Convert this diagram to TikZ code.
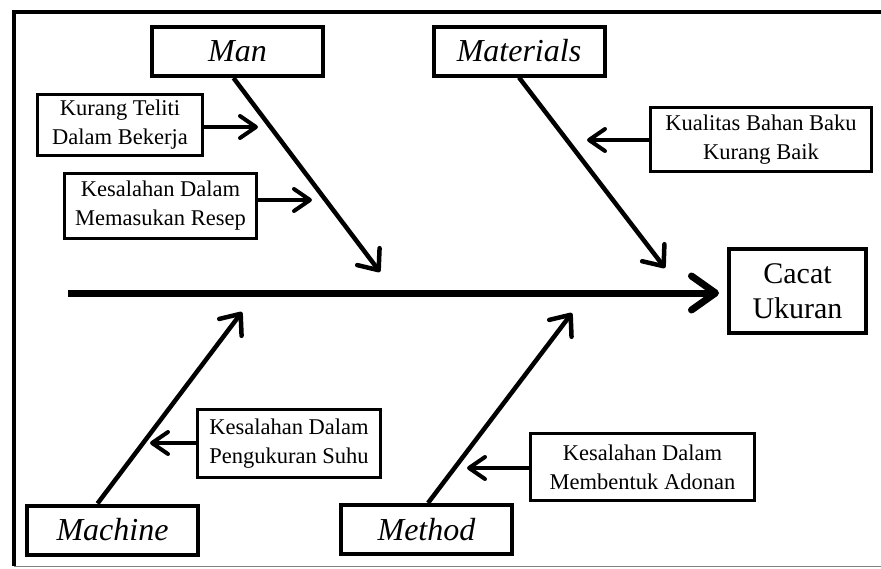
\documentclass[tikz,border=0pt]{standalone}
\usepackage{fontspec}
\setmainfont{Liberation Serif}
\usetikzlibrary{arrows.meta}
\tikzset{
  cat/.style={draw, line width=4pt, inner sep=0pt, font=\fontsize{32}{36}\selectfont\itshape, minimum width=171pt, minimum height=49pt},
  cause/.style={draw, line width=3pt, inner sep=0pt, align=center, font=\fontsize{22.5}{29}\selectfont},
  effect/.style={draw, line width=4pt, inner sep=0pt, align=center, font=\fontsize{30}{35}\selectfont},
  bone/.style={line width=4.5pt, -{Straight Barb[length=17pt,width=28pt,round]}},
  sub/.style={line width=4pt, -{Straight Barb[length=16pt,width=22pt,round]}},
  spine/.style={line width=7pt, -{Straight Barb[length=24pt,width=34pt,round]}},
}
\begin{document}
\begin{tikzpicture}[x=1pt,y=-1pt]
\useasboundingbox (0,0) rectangle (881,568);
% frame
\draw[line width=4pt] (881,12) -- (14,12) -- (14,566);
\draw[gray, line width=1pt] (14,566) -- (881,566);

% category boxes
\node[cat] (man) at (237.5,51.5) {Man};
\node[cat] (mat) at (519,51) {Materials};
\node[cat] (mac) at (112.5,530) {Machine};
\node[cat] (met) at (426.5,529.5) {Method};

% effect
\node[effect, minimum width=137pt, minimum height=84pt] (eff) at (797.5,291) {Cacat\\Ukuran};

% causes
\node[cause, minimum width=165pt, minimum height=61pt] (c1) at (120,125) {Kurang Teliti\\Dalam Bekerja};
\node[cause, minimum width=192pt, minimum height=65pt] (c2) at (160.5,206) {Kesalahan Dalam\\Memasukan Resep};
\node[cause, minimum width=221pt, minimum height=64pt] (c3) at (761,139.5) {Kualitas Bahan Baku\\Kurang Baik};
\node[cause, minimum width=183pt, minimum height=68pt] (c4) at (289,443.5) {Kesalahan Dalam\\Pengukuran Suhu};
\node[cause, minimum width=224pt, minimum height=67pt] (c5) at (642.5,467) {Kesalahan Dalam\\Membentuk Adonan};

% coordinates
\coordinate (sp) at (68,293);
\coordinate (tman) at (380,272);
\coordinate (tmat) at (665,268);
\coordinate (tmac) at (242,312);
\coordinate (tmet) at (572,313);
\coordinate (t1) at (258,127);
\coordinate (t2) at (312,200);
\coordinate (t3) at (587,140);
\coordinate (t4) at (150,443);
\coordinate (t5) at (467,468);

% spine
\draw[spine, shorten >=8pt] (sp) -- (sp -| eff.west);

% bones
\draw[bone] ([xshift=-4pt]man.south) -- (tman);
\draw[bone] (mat.south) -- (tmat);
\draw[bone] ([xshift=-15pt]mac.north) -- (tmac);
\draw[bone] ([xshift=1.5pt]met.north) -- (tmet);

% sub causes
\draw[sub] (t1 -| c1.east) -- (t1);
\draw[sub] (t2 -| c2.east) -- (t2);
\draw[sub] (t3 -| c3.west) -- (t3);
\draw[sub] (t4 -| c4.west) -- (t4);
\draw[sub] (t5 -| c5.west) -- (t5);
\end{tikzpicture}
\end{document}
